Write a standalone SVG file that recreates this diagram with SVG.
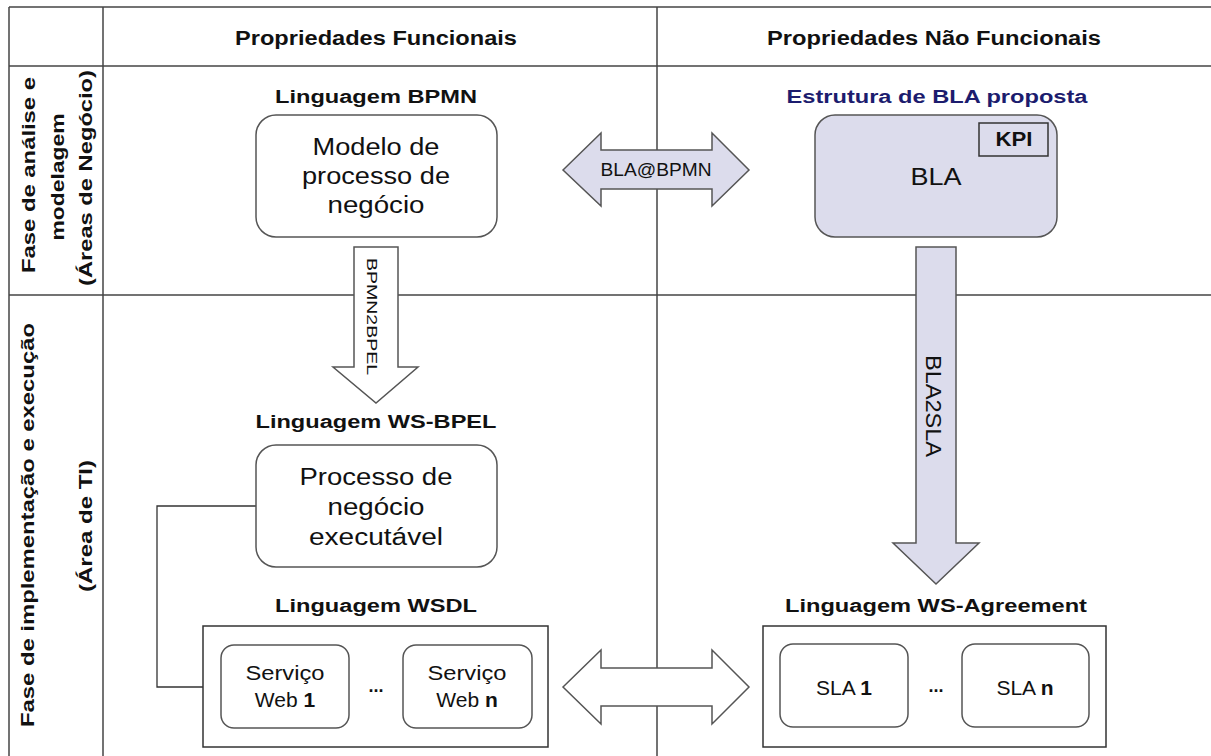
<svg xmlns="http://www.w3.org/2000/svg" width="1211" height="756" viewBox="0 0 1211 756">
<style>
text{font-family:"Liberation Sans",Arial,sans-serif;fill:#111;}
.hdr{font-size:20px;font-weight:bold;text-anchor:middle;}
.lang{font-size:18px;font-weight:bold;text-anchor:middle;}
.side{font-size:19px;font-weight:bold;text-anchor:middle;}
.big{font-size:23px;text-anchor:middle;}
.small{font-size:18px;text-anchor:middle;}
.svc{font-size:21px;text-anchor:middle;}
.grid{stroke:#444;stroke-width:1.5;fill:none;}
.box{fill:#fff;stroke:#555;stroke-width:1.5;}
.lav{fill:#dcdcec;stroke:#555;stroke-width:1.5;}
.wht{fill:#fff;stroke:#555;stroke-width:1.5;}
.conn{fill:none;stroke:#333;stroke-width:1.3;}
</style>
<rect width="1211" height="756" fill="#fff"/>
<g id="table">
  <line class="grid" x1="9" y1="7" x2="1211" y2="7" stroke-width="2" stroke="#222"/>
  <line class="grid" x1="9" y1="66" x2="1211" y2="66"/>
  <line class="grid" x1="9" y1="295" x2="1211" y2="295"/>
  <line class="grid" x1="9" y1="7" x2="9" y2="756"/>
  <line class="grid" x1="103" y1="7" x2="103" y2="756"/>
  <line class="grid" x1="657" y1="7" x2="657" y2="756"/>
  <text class="hdr" x="376" y="45" textLength="282" lengthAdjust="spacingAndGlyphs">Propriedades Funcionais</text>
  <text class="hdr" x="934" y="45" textLength="334" lengthAdjust="spacingAndGlyphs">Propriedades Não Funcionais</text>
  <text class="side" transform="rotate(-90 35 175)" x="35" y="175" textLength="196" lengthAdjust="spacingAndGlyphs">Fase de análise e</text>
  <text class="side" transform="rotate(-90 64 177)" x="64" y="177" textLength="127" lengthAdjust="spacingAndGlyphs">modelagem</text>
  <text class="side" transform="rotate(-90 92 178)" x="92" y="178" textLength="216" lengthAdjust="spacingAndGlyphs">(Áreas de Negócio)</text>
  <text class="side" transform="rotate(-90 34 525)" x="34" y="525" textLength="404" lengthAdjust="spacingAndGlyphs">Fase de implementação e execução</text>
  <text class="side" transform="rotate(-90 92 526)" x="92" y="526" textLength="132" lengthAdjust="spacingAndGlyphs">(Área de TI)</text>
</g>
<g id="connectors">
  <path class="lav" d="M563,170 L601,133 L601,150 L712,150 L712,133 L749,170 L712,206 L712,189 L601,189 L601,206 Z"/>
  <text class="small" x="656" y="176" font-size="19" textLength="111" lengthAdjust="spacingAndGlyphs">BLA@BPMN</text>
  <path class="wht" d="M563,687 L601,650 L601,668 L712,668 L712,650 L749,687 L712,724 L712,706 L601,706 L601,724 Z"/>
  <path class="wht" d="M354,247 L398,247 L398,367 L418,367 L376,403 L333,367 L354,367 Z"/>
  <text transform="rotate(90 367 316.5)" x="367" y="316.5" font-size="14" text-anchor="middle" textLength="117" lengthAdjust="spacingAndGlyphs">BPMN2BPEL</text>
  <path class="lav" d="M916,247 L956,247 L956,543 L979,543 L936,584 L893,543 L916,543 Z"/>
  <text transform="rotate(90 926 406)" x="926" y="406" font-size="22" text-anchor="middle" textLength="102" lengthAdjust="spacingAndGlyphs">BLA2SLA</text>
  <polyline class="conn" points="256,506 157,506 157,687 203,687"/>
</g>
<g id="bpmn">
  <text class="lang" x="376" y="103" textLength="202" lengthAdjust="spacingAndGlyphs">Linguagem BPMN</text>
  <rect class="box" x="256" y="115" width="241" height="122" rx="20"/>
  <text class="big" x="376" y="155" textLength="127" lengthAdjust="spacingAndGlyphs">Modelo de</text>
  <text class="big" x="376" y="184" textLength="148" lengthAdjust="spacingAndGlyphs">processo de</text>
  <text class="big" x="376" y="213" textLength="97" lengthAdjust="spacingAndGlyphs">negócio</text>
</g>
<g id="bla">
  <text class="lang" x="937" y="103" style="fill:#1c1c6e" textLength="301" lengthAdjust="spacingAndGlyphs">Estrutura de BLA proposta</text>
  <rect class="lav" x="815" y="115" width="242" height="122" rx="20"/>
  <rect x="979" y="123" width="69" height="33" fill="none" stroke="#333" stroke-width="1.5"/>
  <text x="1014" y="146" font-size="20" font-weight="bold" text-anchor="middle" textLength="37" lengthAdjust="spacingAndGlyphs">KPI</text>
  <text x="936" y="185" font-size="24" text-anchor="middle" textLength="51" lengthAdjust="spacingAndGlyphs">BLA</text>
</g>
<g id="bpel">
  <text class="lang" x="376" y="428" textLength="241" lengthAdjust="spacingAndGlyphs">Linguagem WS-BPEL</text>
  <rect class="box" x="256" y="445" width="241" height="122" rx="20"/>
  <text class="big" x="376" y="485" textLength="153" lengthAdjust="spacingAndGlyphs">Processo de</text>
  <text class="big" x="376" y="515" textLength="97" lengthAdjust="spacingAndGlyphs">negócio</text>
  <text class="big" x="376" y="545" textLength="134" lengthAdjust="spacingAndGlyphs">executável</text>
</g>
<g id="wsdl">
  <text class="lang" x="376" y="612" textLength="202" lengthAdjust="spacingAndGlyphs">Linguagem WSDL</text>
  <rect x="203" y="626" width="345" height="121" fill="#fff" stroke="#333" stroke-width="1.5"/>
  <rect class="box" x="221" y="645" width="128" height="83" rx="13"/>
  <text class="svc" x="285" y="680" textLength="79" lengthAdjust="spacingAndGlyphs">Serviço</text>
  <text class="svc" x="285" y="707">Web <tspan font-weight="bold">1</tspan></text>
  <text x="376" y="692" font-size="18" font-weight="bold" text-anchor="middle">...</text>
  <rect class="box" x="403" y="645" width="129" height="83" rx="13"/>
  <text class="svc" x="467" y="680" textLength="79" lengthAdjust="spacingAndGlyphs">Serviço</text>
  <text class="svc" x="467" y="707">Web <tspan font-weight="bold">n</tspan></text>
</g>
<g id="wsagreement">
  <text class="lang" x="936" y="612" textLength="302" lengthAdjust="spacingAndGlyphs">Linguagem WS-Agreement</text>
  <rect x="763" y="626" width="343" height="121" fill="#fff" stroke="#333" stroke-width="1.5"/>
  <rect class="box" x="780" y="644" width="128" height="83" rx="13"/>
  <text class="svc" x="844" y="695">SLA <tspan font-weight="bold">1</tspan></text>
  <text x="936" y="692" font-size="18" font-weight="bold" text-anchor="middle">...</text>
  <rect class="box" x="962" y="644" width="127" height="83" rx="13"/>
  <text class="svc" x="1025" y="695">SLA <tspan font-weight="bold">n</tspan></text>
</g>
</svg>
